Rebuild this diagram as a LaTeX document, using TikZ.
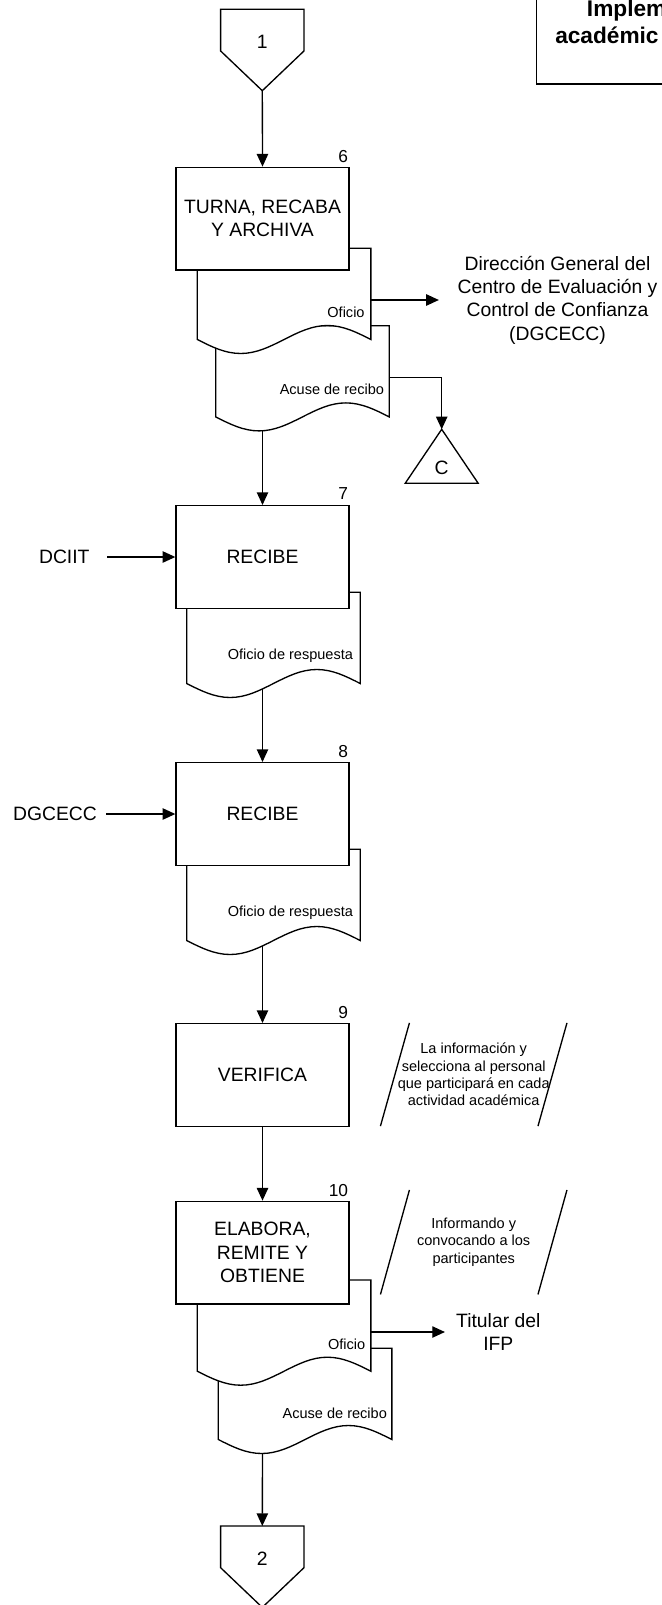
\documentclass[tikz,border=0pt]{standalone}
\usepackage{fontspec}
\setmainfont{Liberation Sans}
\usetikzlibrary{positioning,calc,arrows.meta}
\pgfdeclarelayer{background}
\pgfsetlayers{background,main}

\newcommand{\mainsize}{\fontsize{14.5pt}{17.5pt}\selectfont}
\newcommand{\notesize}{\fontsize{10.9pt}{13pt}\selectfont}
\newcommand{\numsize}{\fontsize{13pt}{15pt}\selectfont}
\newcommand{\titlesize}{\fontsize{17pt}{20pt}\selectfont\bfseries}

% document symbol round an empty node
\newcommand{\docshape}[1]{%
  \draw[shapeline, fill=white] (#1.north west) -- (#1.south west)
    sin ($(#1.south west)!.25!(#1.south east)+(0,14)$)
    cos ($(#1.south west)!.5!(#1.south east)$)
    sin ($(#1.south west)!.75!(#1.south east)+(0,-14)$)
    cos (#1.south east) -- (#1.north east) -- cycle;}

% two slanted sides of an annotation
\newcommand{\slantlines}[1]{%
  \draw[shapeline] ([xshift=21.75pt]#1.north west) -- (#1.south west)
                   (#1.north east) -- ([xshift=-21.75pt]#1.south east);}

% off-page connector: name, x, top y, text
\newcommand{\offpage}[4]{%
  \draw[shapeline, fill=white] (#2-41.65,#3) -- ++(83.3,0) -- ++(0,41.7)
    -- ++(-41.65,39.7) -- ++(-41.65,-39.7) -- cycle;
  \node[inner sep=0pt, font=\mainsize] (#1) at (#2,#3+32.4) {#4};
  \coordinate (#1-top) at (#2,#3);
  \coordinate (#1-tip) at (#2,#3+81.4);}

\begin{document}
\begin{tikzpicture}[x=0.75pt, y=-0.75pt,
    shapeline/.style={line width=1pt},
    proc/.style={rectangle, draw, line width=1pt, fill=white,
                 minimum width=129.75pt, minimum height=77pt,
                 align=center, font=\mainsize},
    docbox/.style={rectangle, inner sep=0pt,
                   minimum width=129.75pt, minimum height=68pt},
    doctext/.style={anchor=east, inner sep=0pt, font=\notesize},
    num/.style={inner sep=0pt, font=\numsize},
    ext/.style={inner sep=0pt, align=center, font=\mainsize},
    note/.style={inner sep=0pt, align=center, font=\notesize,
                 minimum width=139.5pt, minimum height=77pt},
    arrow/.style={-{Triangle[length=9.5pt, width=8.5pt]}, line width=1pt}
  ]
  \useasboundingbox (0,0) rectangle (661,1605);

  % title box, cut by the page edge
  \draw[shapeline] (536.7,-20) rectangle (700,84);
  \node[anchor=base west, inner sep=0pt, font=\titlesize] (title1) at (586.7,17) {Implem};
  \node[anchor=base west, inner sep=0pt, font=\titlesize] (title2) at (555,44) {académic};

  \offpage{c1}{262.3}{9.3}{1}

  % 6
  \node[docbox, anchor=north west] (d6b) at (215.7,325.7) {};
  \docshape{d6b}
  \node[doctext] (t6b) at ([xshift=-3.75pt, yshift=21pt]d6b.south east) {Acuse de recibo};
  \node[docbox, anchor=north west] (d6a) at (197.3,248.3) {};
  \docshape{d6a}
  \node[doctext] (t6a) at ([xshift=-4.5pt, yshift=20.25pt]d6a.south east) {Oficio};
  \node[proc] (b6) at (262.5,218.65) {TURNA, RECABA\\Y ARCHIVA};
  \node[num, above left=3pt and 1pt of b6.north east] (n6) {6};
  \node[ext] (dg) at (557.5,300) {Dirección General del\\Centro de Evaluación y\\Control de Confianza\\(DGCECC)};
  \coordinate (cC-top) at (441.7,429.3);
  \draw[shapeline] (cC-top) -- (478.2,483.3) -- (405.2,483.3) -- cycle;
  \node[ext] (cC) at (441.7,468.3) {C};

  % 7
  \node[docbox, anchor=north west] (d7) at (186.7,592.3) {};
  \docshape{d7}
  \node[doctext] (t7) at ([xshift=-5.25pt, yshift=21pt]d7.south east) {Oficio de respuesta};
  \node[proc] (b7) at (262.5,557) {RECIBE};
  \node[num, above left=4pt and 1pt of b7.north east] (n7) {7};
  \node[ext] (dciit) at (64.3,557) {DCIIT};

  % 8
  \node[docbox, anchor=north west] (d8) at (186.7,849.3) {};
  \docshape{d8}
  \node[doctext] (t8) at ([xshift=-5.25pt, yshift=21pt]d8.south east) {Oficio de respuesta};
  \node[proc] (b8) at (262.5,814) {RECIBE};
  \node[num, above left=3pt and 1pt of b8.north east] (n8) {8};
  \node[ext] (dgcecc) at (55,814) {DGCECC};

  % 9
  \node[proc] (b9) at (262.5,1075) {VERIFICA};
  \node[num, above left=3pt and 1pt of b9.north east] (n9) {9};
  \node[note] (note9) at (473.7,1074.5) {La información y\\selecciona al personal\\que participará en cada\\actividad académica};
  \slantlines{note9}

  % 10
  \node[docbox, anchor=north west] (d10b) at (218.3,1348.3) {};
  \docshape{d10b}
  \node[doctext] (t10b) at ([xshift=-3.5pt, yshift=19.5pt]d10b.south east) {Acuse de recibo};
  \node[docbox, anchor=north west] (d10a) at (197.3,1280) {};
  \docshape{d10a}
  \node[doctext] (t10a) at ([xshift=-4pt, yshift=20.5pt]d10a.south east) {Oficio};
  \node[proc] (b10) at (262.5,1252.65) {ELABORA,\\REMITE Y\\OBTIENE};
  \node[num, above left=2.5pt and 1pt of b10.north east] (n10) {10};
  \node[note, minimum height=78pt] (note10) at (473.7,1242.2) {Informando y\\convocando a los\\participantes};
  \slantlines{note10}
  \node[ext] (tit) at (498.3,1332) {Titular del\\IFP};

  \offpage{c2}{262.3}{1526}{2}

  \begin{pgfonlayer}{background}
    \draw[arrow] (c1-tip) -- (b6.north);
    \draw[arrow] (d6a.east |- dg.west) -- ([xshift=-13.8pt]dg.west);
    \draw[arrow] ([yshift=-4.7pt]d6b.east) -| (cC-top);
    \draw[arrow] (b6.south |- d6b.south) -- (b7.north);
    \draw[arrow] ([xshift=13pt]dciit.east) -- (b7.west);
    \draw[arrow] (b7.south |- d7.south) -- (b8.north);
    \draw[arrow] ([xshift=6.75pt]dgcecc.east) -- (b8.west);
    \draw[arrow] (b8.south |- d8.south) -- (b9.north);
    \draw[arrow] (b9.south) -- (b10.north);
    \draw[arrow] (d10a.east |- tit.west) -- ([xshift=-8.25pt]tit.west);
    \draw[arrow] (b10.south |- d10b.south) -- (c2-top);
  \end{pgfonlayer}
\end{tikzpicture}
\end{document}
